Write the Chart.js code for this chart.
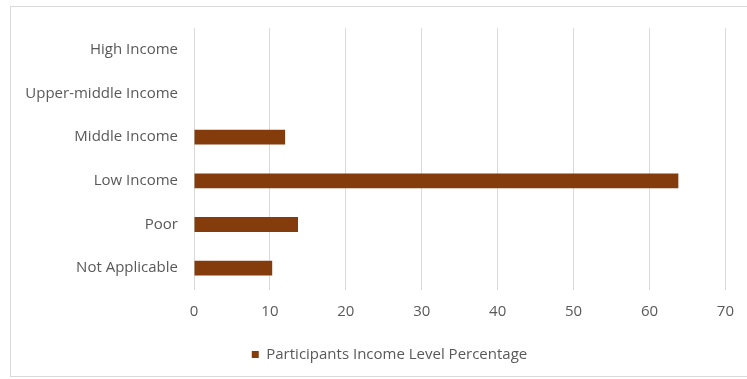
<!DOCTYPE html>
<html>
<head>
<meta charset="utf-8">
<script src="https://cdn.jsdelivr.net/npm/chart.js@4"></script>
<style>
  html, body { margin: 0; padding: 0; background: #fff; }
  #wrap { position: relative; width: 747px; height: 379px; }
  #frame { position: absolute; left: 10px; top: 6px; width: 745px; height: 371px; border: 1px solid #d9d9d9; box-sizing: border-box; }
  canvas { position: absolute; left: 0; top: 0; }
</style>
</head>
<body>
<div id="wrap">
  <div id="frame"></div>
  <canvas id="incomeChart" width="747" height="379"></canvas>
</div>
<script>
const categories = ['High Income', 'Upper-middle Income', 'Middle Income', 'Low Income', 'Poor', 'Not Applicable'];
const percentages = [0, 0, 12.0, 63.8, 13.7, 10.3];
const seriesLabel = 'Participants Income Level Percentage';
const xTicks = [0, 10, 20, 30, 40, 50, 60, 70];

const textColor = '#595959';
const barColor = '#843c0c';
const font = { family: 'Open Sans', size: 15 };

// nudge the legend a bit right, the original is not centred on the canvas
const legendShift = {
    id: 'legendShift',
    afterLayout(chart) {
        chart.legend.left += 20;
        chart.legend.right += 20;
    }
};

const ctx = document.getElementById('incomeChart').getContext('2d');

new Chart(ctx, {
    type: 'bar',
    data: {
        labels: categories,
        datasets: [{
            label: seriesLabel,
            data: percentages,
            backgroundColor: barColor,
            borderWidth: 0,
            barPercentage: 0.68,
            categoryPercentage: 0.5
        }]
    },
    options: {
        indexAxis: 'y',
        responsive: false,
        animation: false,
        layout: { padding: { left: 0, top: 28, right: 8, bottom: 7 } },
        plugins: {
            legend: {
                position: 'bottom',
                labels: {
                    color: textColor,
                    font: font,
                    boxWidth: 7,
                    boxHeight: 7,
                    padding: 10
                }
            },
            tooltip: { enabled: false }
        },
        scales: {
            x: {
                min: 0,
                max: 70,
                afterBuildTicks: scale => { scale.ticks = xTicks.map(v => ({ value: v })); },
                afterFit: scale => { scale.height = 47; },
                grid: { color: '#d9d9d9', drawTicks: false },
                border: { display: false },
                ticks: { color: textColor, padding: 13, font: font }
            },
            y: {
                afterFit: scale => { scale.width = 194; },
                grid: { display: false, drawTicks: false },
                border: { display: false },
                ticks: { color: textColor, padding: 16, font: font }
            }
        }
    },
    plugins: [legendShift]
});
</script>
</body>
</html>
